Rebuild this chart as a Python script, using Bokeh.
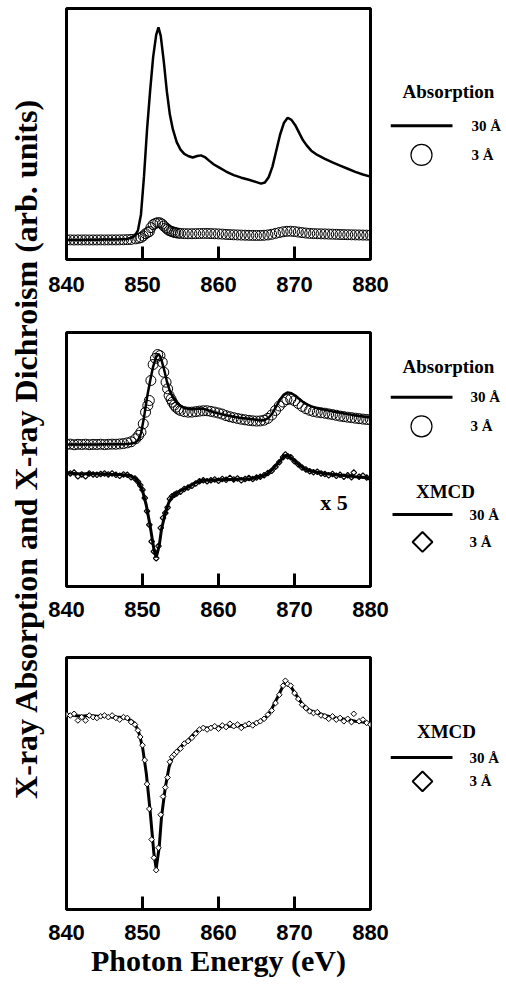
from bokeh.plotting import figure
from bokeh.models import Range1d, FixedTicker, Label
from bokeh.layouts import row, column
from bokeh.embed import file_html
from bokeh.resources import INLINE

# ---------------- spectra (photon energy in eV) ----------------
energy_ticks = [840, 850, 860, 870, 880]
tick_labels = ["840", "850", "860", "870", "880"]

# 30 A film, total absorption, normalised to the L3 white line
abs30_energy = [840.0, 841.0, 842.0, 843.0, 844.0, 845.0, 846.0, 847.0, 848.0,
                848.5, 849.0, 849.4, 849.8, 850.2, 850.6, 851.0, 851.4, 851.8,
                852.1, 852.4, 852.8, 853.2, 853.6, 854.0, 854.5, 855.0, 855.5,
                856.0, 856.6, 857.2, 857.7, 858.2, 858.8, 859.4, 860.0, 861.0,
                862.0, 863.0, 864.0, 865.0, 865.6, 866.1, 866.6, 867.1, 867.6,
                868.1, 868.6, 869.1, 869.6, 870.1, 870.6, 871.1, 871.6, 872.2,
                873.0, 874.0, 875.0, 876.0, 877.0, 878.0, 879.0, 880.0]
abs30 = [0.000, 0.000, 0.000, 0.001, 0.001, 0.002, 0.002, 0.003, 0.005,
         0.010, 0.020, 0.045, 0.120, 0.300, 0.520, 0.700, 0.860, 0.965,
         1.000, 0.960, 0.840, 0.700, 0.590, 0.520, 0.460, 0.425, 0.405,
         0.395, 0.388, 0.395, 0.398, 0.390, 0.372, 0.355, 0.343, 0.322,
         0.305, 0.293, 0.283, 0.272, 0.265, 0.270, 0.295, 0.345, 0.420,
         0.495, 0.550, 0.575, 0.565, 0.540, 0.505, 0.470, 0.445, 0.420,
         0.400, 0.382, 0.365, 0.350, 0.335, 0.320, 0.308, 0.298]

# 3 A film, total absorption, normalised to its own L3 white line
abs3_energy = [840.0, 840.5, 841.0, 841.5, 842.0, 842.5, 843.0, 843.5, 844.0,
               844.5, 845.0, 845.5, 846.0, 846.5, 847.0, 847.5, 848.0, 848.5,
               849.1, 849.5, 849.8, 850.1, 850.4, 850.7, 850.9, 851.1, 851.4,
               851.7, 852.0, 852.3, 852.6, 852.8, 853.1, 853.3, 853.5, 853.75,
               853.95, 854.2, 854.4, 854.7,
               855.0, 855.5, 856.0, 856.5, 857.0, 857.5, 858.0, 858.5, 859.0,
               859.5, 860.0, 860.5, 861.0, 861.5, 862.0, 862.5, 863.0, 863.5,
               864.0, 864.5, 865.0, 865.5, 866.0, 866.5, 867.0, 867.5, 868.0,
               868.5, 869.0, 869.5, 870.0, 870.5, 871.0, 871.5, 872.0, 872.5,
               873.0, 873.5, 874.0, 874.5, 875.0, 875.5, 876.0, 876.5, 877.0,
               877.5, 878.0, 878.5, 879.0, 879.5, 880.0]
abs3 = [0.000, 0.004, -0.003, 0.002, 0.000, 0.003, -0.002, 0.001, 0.000,
        0.003, -0.001, 0.002, 0.004, 0.003, 0.006, 0.010, 0.018, 0.030,
        0.063, 0.100, 0.136, 0.228, 0.356, 0.430, 0.485, 0.706, 0.882,
        0.950, 0.992, 0.980, 0.907, 0.797, 0.687, 0.614, 0.540, 0.500,
        0.466, 0.435, 0.411, 0.390,
        0.375, 0.362, 0.356, 0.357, 0.362, 0.368, 0.372, 0.372, 0.365,
        0.357, 0.347, 0.335, 0.318, 0.306, 0.296, 0.287, 0.279, 0.272,
        0.266, 0.261, 0.258, 0.260, 0.268, 0.288, 0.325, 0.375, 0.425,
        0.468, 0.495, 0.500, 0.482, 0.452, 0.420, 0.395, 0.377, 0.364,
        0.356, 0.350, 0.345, 0.337, 0.330, 0.322, 0.313, 0.307, 0.301,
        0.296, 0.290, 0.285, 0.280, 0.276, 0.272]

# edge jump of the 3 A film relative to the 30 A film (top panel, raw signals)
thin_film_ratio = 0.082

# XMCD, 30 A film (same units as the normalised absorption)
xmcd30_energy = [840.0, 841.0, 842.0, 843.0, 844.0, 845.0, 846.0, 847.0, 848.0,
                 848.5, 849.0, 849.5, 850.0, 850.5, 851.0, 851.5, 851.8, 852.2,
                 852.5, 853.0, 853.5, 854.0, 854.5, 855.0, 856.0, 857.0, 858.0,
                 859.0, 860.0, 861.0, 862.0, 863.0, 864.0, 865.0, 866.0, 866.5,
                 867.0, 867.5, 868.0, 868.5, 868.8, 869.2, 869.5, 870.0, 870.5,
                 871.0, 871.5, 872.0, 873.0, 874.0, 875.0, 876.0, 877.0, 878.0,
                 879.0, 880.0]
xmcd30 = [0.001, 0.000, -0.001, 0.000, -0.001, -0.001, -0.002, -0.002, -0.004,
          -0.006, -0.010, -0.020, -0.038, -0.070, -0.115, -0.167, -0.185, -0.159,
          -0.123, -0.087, -0.062, -0.049, -0.043, -0.038, -0.030, -0.020, -0.015,
          -0.015, -0.014, -0.013, -0.013, -0.012, -0.012, -0.009, -0.004, 0.000,
          0.008, 0.017, 0.026, 0.036, 0.040, 0.038, 0.035, 0.028, 0.021,
          0.014, 0.009, 0.006, 0.003, 0.000, -0.002, -0.004, -0.005, -0.007,
          -0.008, -0.010]

# XMCD, 3 A film
xmcd3_energy = [840.0, 840.5, 841.0, 841.5, 842.0, 842.5, 843.0, 843.5, 844.0,
                844.5, 845.0, 845.5, 846.0, 846.5, 847.0, 847.5, 848.0, 848.5,
                849.0, 849.4, 849.7, 850.0, 850.3, 850.6, 850.9, 851.2, 851.5,
                851.8, 852.1, 852.4, 852.7, 853.0, 853.3, 853.6, 853.9, 854.2,
                854.5, 855.0, 855.5, 856.0, 856.5, 857.0, 857.5, 858.0, 858.5,
                859.0, 859.5, 860.0, 860.5, 861.0, 861.5, 862.0, 862.5, 863.0,
                863.5, 864.0, 864.5, 865.0, 865.5, 866.0, 866.5, 867.0, 867.5,
                868.0, 868.5, 868.8, 869.1, 869.5, 870.0, 870.5, 871.0, 871.5,
                872.0, 872.5, 873.0, 873.5, 874.0, 874.5, 875.0, 875.5, 876.0,
                876.5, 877.0, 877.5, 877.8, 878.5, 879.0, 879.5, 880.0]
xmcd3 = [0.001, 0.000, 0.002, -0.006, -0.002, -0.006, 0.000, -0.002, -0.003,
         -0.001, 0.000, -0.002, 0.000, -0.003, -0.005, -0.002, -0.003, -0.008,
         -0.011, -0.018, -0.026, -0.036, -0.054, -0.083, -0.113, -0.150, -0.172,
         -0.187, -0.160, -0.120, -0.098, -0.087, -0.075, -0.056, -0.050, -0.047,
         -0.044, -0.040, -0.034, -0.031, -0.027, -0.022, -0.017, -0.015, -0.017,
         -0.015, -0.013, -0.016, -0.012, -0.014, -0.010, -0.013, -0.011, -0.015,
         -0.012, -0.010, -0.012, -0.009, -0.007, -0.004, 0.001, 0.006, 0.015,
         0.025, 0.036, 0.042, 0.038, 0.036, 0.027, 0.020, 0.013, 0.009,
         0.005, 0.003, 0.004, 0.000, -0.001, -0.004, -0.001, -0.005, -0.003,
         -0.007, -0.004, -0.008, 0.002, -0.007, -0.005, -0.009, -0.011]

# XMCD is magnified and shifted below the absorption in the middle panel
xmcd_gain = 5
xmcd_shift = -0.32

SERIF = "Liberation Serif"
SANS = "Liberation Sans"
TITLE_W, PANEL_W, KEY_W = 46, 344, 116


def make_panel(height, top, bottom, y_start, y_end, xlabel=None):
    p = figure(width=PANEL_W, height=height,
               x_range=Range1d(840, 880), y_range=Range1d(y_start, y_end),
               y_axis_type=None, toolbar_location=None, output_backend="svg",
               min_border_left=20, min_border_right=20,
               min_border_top=top, min_border_bottom=bottom)
    p.grid.visible = False
    p.background_fill_color = "white"
    p.border_fill_color = "white"
    p.outline_line_color = "black"
    p.outline_line_width = 3
    p.outline_line_alpha = 1.0
    ax = p.xaxis[0]
    ax.ticker = FixedTicker(ticks=energy_ticks)
    ax.major_label_overrides = {t: s for t, s in zip(energy_ticks, tick_labels)}
    ax.major_tick_in = 13
    ax.major_tick_out = 0
    ax.major_tick_line_width = 3
    ax.major_tick_line_color = "black"
    ax.minor_tick_line_color = None
    ax.axis_line_color = None
    ax.major_label_text_font = SANS
    ax.major_label_text_font_style = "bold"
    ax.major_label_text_font_size = "22px"
    ax.major_label_text_color = "black"
    ax.major_label_standoff = 15
    if xlabel:
        ax.axis_label = xlabel
        ax.axis_label_text_font = SERIF
        ax.axis_label_text_font_style = "bold"
        ax.axis_label_text_font_size = "30px"
        ax.axis_label_text_color = "black"
        ax.axis_label_standoff = 1
    return p


def make_key(height):
    k = figure(width=KEY_W, height=height,
               x_range=Range1d(0, KEY_W), y_range=Range1d(0, height),
               x_axis_type=None, y_axis_type=None, toolbar_location=None,
               output_backend="svg", min_border=0)
    k.grid.visible = False
    k.outline_line_color = None
    k.background_fill_color = "white"
    k.border_fill_color = "white"
    return k


def key_text(k, x, y, text, size="15px", align="left"):
    k.add_layout(Label(x=x, y=y, text=text, text_font=SERIF, text_font_style="bold",
                       text_font_size=size, text_align=align, text_baseline="middle",
                       text_color="black"))


def key_line(k, x0, x1, y):
    k.line([x0, x1], [y, y], line_color="black", line_width=3)


def key_marker(k, x, y, marker):
    if marker == "circle":
        k.scatter([x], [y], marker="circle", size=21, fill_color=None,
                  line_color="black", line_width=1.2)
    else:
        k.scatter([x], [y], marker="square", angle=45, angle_units="deg", size=14,
                  fill_color=None, line_color="black", line_width=2)


# ---------------- top panel: raw absorption ----------------
p1 = make_panel(300, 8, 41, -0.092, 1.089)
p1.xaxis[0].major_label_standoff = 17
p1.line(abs30_energy, abs30, line_color="black", line_width=2.5)
p1.scatter(abs3_energy, [v * thin_film_ratio for v in abs3], marker="circle", size=10,
           fill_color=None, line_color="black", line_width=1)

k1 = make_key(300)
key_text(k1, 58, 201, "Absorption", size="19px", align="center")
key_line(k1, 0, 62, 160)
key_text(k1, 81, 160, "30 Å")
key_marker(k1, 31, 125, "circle")
key_text(k1, 81, 125, "3 Å")

# ---------------- middle panel: normalised absorption and XMCD x5 ----------------
p2 = make_panel(325, 32, 39, -1.566, 1.235)
p2.line(abs30_energy, abs30, line_color="black", line_width=2.5)
p2.scatter(abs3_energy, abs3, marker="circle", size=10,
           fill_color=None, line_color="black", line_width=1)
p2.line(xmcd30_energy, [xmcd_shift + xmcd_gain * v for v in xmcd30],
        line_color="black", line_width=3)
p2.scatter(xmcd3_energy, [xmcd_shift + xmcd_gain * v for v in xmcd3], marker="square",
           angle=45, angle_units="deg", size=4, fill_color=None,
           line_color="black", line_width=1.2)
p2.add_layout(Label(x=875.2, y=-0.64, text="x 5", text_font=SERIF, text_font_style="bold",
                    text_font_size="22px", text_align="center", text_baseline="middle",
                    text_color="black"))

k2 = make_key(325)
key_text(k2, 58, 282, "Absorption", size="19px", align="center")
key_line(k2, 0, 62, 242)
key_text(k2, 80, 242, "30 Å")
key_marker(k2, 31, 205, "circle")
key_text(k2, 80, 205, "3 Å")
key_text(k2, 55, 121, "XMCD", size="19px", align="center")
key_line(k2, 2, 62, 92)
key_text(k2, 79, 92, "30 Å")
key_marker(k2, 32, 57, "diamond")
key_text(k2, 79, 57, "3 Å")

# ---------------- bottom panel: XMCD ----------------
p3 = make_panel(360, 32, 76, -0.2346, 0.0701, xlabel="Photon Energy (eV)")
p3.line(xmcd30_energy, xmcd30, line_color="black", line_width=3)
p3.scatter(xmcd3_energy, xmcd3, marker="square", angle=45, angle_units="deg", size=4,
           fill_color="white", line_color="black", line_width=1)

k3 = make_key(360)
key_text(k3, 56, 255, "XMCD", size="19px", align="center")
key_line(k3, 0, 62, 217)
key_text(k3, 79, 217, "30 Å")
key_marker(k3, 32, 183, "diamond")
key_text(k3, 79, 183, "3 Å")

# ---------------- shared vertical axis title ----------------
t = figure(width=TITLE_W, height=985, x_range=Range1d(0, TITLE_W), y_range=Range1d(0, 985),
           x_axis_type=None, y_axis_type=None, toolbar_location=None,
           output_backend="svg", min_border=0)
t.grid.visible = False
t.outline_line_color = None
t.add_layout(Label(x=25, y=537, text="X-ray Absorption and X-ray Dichroism (arb. units)",
                   angle=90, angle_units="deg", text_font=SERIF, text_font_style="bold",
                   text_font_size="32px", text_align="center", text_baseline="middle",
                   text_color="black"))

root = row(t, column(row(p1, k1), row(p2, k2), row(p3, k3)))

with open("out.html", "w") as f:
    f.write(file_html(root, INLINE))
